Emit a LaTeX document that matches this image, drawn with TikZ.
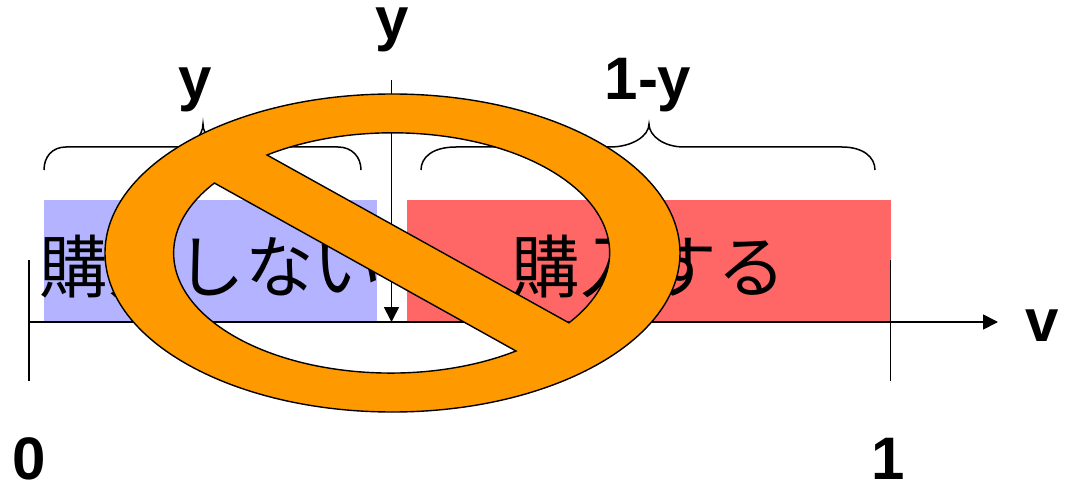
\documentclass[tikz,border=0pt]{standalone}
\usepackage{fontspec}
\setmainfont{Liberation Sans}
\newfontfamily\jpfont{Noto Sans CJK JP}
\usetikzlibrary{arrows.meta}
\definecolor{buyno}{HTML}{B3B3FF}
\definecolor{buyyes}{HTML}{FF6666}
\definecolor{banorange}{HTML}{FF9900}
\tikzset{
  lat/.style={font=\fontsize{60}{60}\selectfont\bfseries,inner sep=0pt,text=black},
  jp/.style={font=\jpfont\fontsize{68.5}{69}\selectfont,inner sep=0pt,text=black},
  ruleline/.style={draw=black,line width=1.7pt},
  arrowline/.style={ruleline,-{Triangle[length=15pt,width=15pt]}},
  bracel/.style={draw=black,line width=1.5pt},
  band/.style={draw=none}
}
\begin{document}
\begin{tikzpicture}[x=1pt,y=1pt]
\useasboundingbox (0,0) rectangle (1066,483);
% bands
\node[band,fill=buyno,minimum width=333pt,minimum height=121pt,inner sep=0pt,anchor=south west] (noband) at (44,161.5) {};
\node[band,fill=buyyes,minimum width=484pt,minimum height=121pt,inner sep=0pt,anchor=south west] (yesband) at (407,161.5) {};
% texts in bands
\node[jp,anchor=center] (notext) at (211,216) {購入しない};
\node[jp,anchor=center] (yestext) at (648.5,216) {購入する};
% coordinates
\coordinate (axisstart) at (29,161);
\coordinate (axisend) at (998,161);
\coordinate (tick0top) at (29,223);
\coordinate (tick0bot) at (29,102);
\coordinate (tick1top) at (890.5,223);
\coordinate (tick1bot) at (890.5,102);
\coordinate (ytop) at (391.5,403);
\coordinate (yfoot) at (391.5,161);
% axes
\draw[arrowline] (axisstart) -- (axisend);
\draw[ruleline] (tick0top) -- (tick0bot);
\draw[ruleline,line width=1.2pt] (tick1top) -- (tick1bot);
\draw[arrowline] (ytop) -- (yfoot);
% braces
\draw[bracel] (44,313) .. controls (44,326) and (52,336) .. (66,336) -- (176,336)
  .. controls (192,336) and (203,347) .. (203,359)
  .. controls (203,347) and (214,336) .. (230,336) -- (338,336)
  .. controls (352,336) and (361,326) .. (361,313);
\draw[bracel] (421,313) .. controls (421,326) and (433,336) .. (456,336) -- (610,336)
  .. controls (632,336) and (649,347) .. (649,359)
  .. controls (649,347) and (664,336) .. (684,336) -- (842,336)
  .. controls (863,336) and (875,326) .. (875,313);
% labels
\node[lat] (ylabeltop) at (392,453) {y};
\node[lat] (ylabelleft) at (195,393) {y};
\node[lat] (oneminusy) at (648,398) {1-y};
\node[lat] (vlabel) at (1042,157) {v};
\node[lat] (zero) at (29,24) {0};
\node[lat] (one) at (888,24) {1};
% prohibition sign
\path[fill=banorange,draw=black,line width=1.4pt,even odd rule]
  (392.5,230) ellipse [x radius=287.5,y radius=159]
  (267,328) arc[start angle=125.4,end angle=-35.7,x radius=217,y radius=120] -- cycle
  (516,132) arc[start angle=-54.7,end angle=-215.7,x radius=217,y radius=120] -- cycle;
\end{tikzpicture}
\end{document}
